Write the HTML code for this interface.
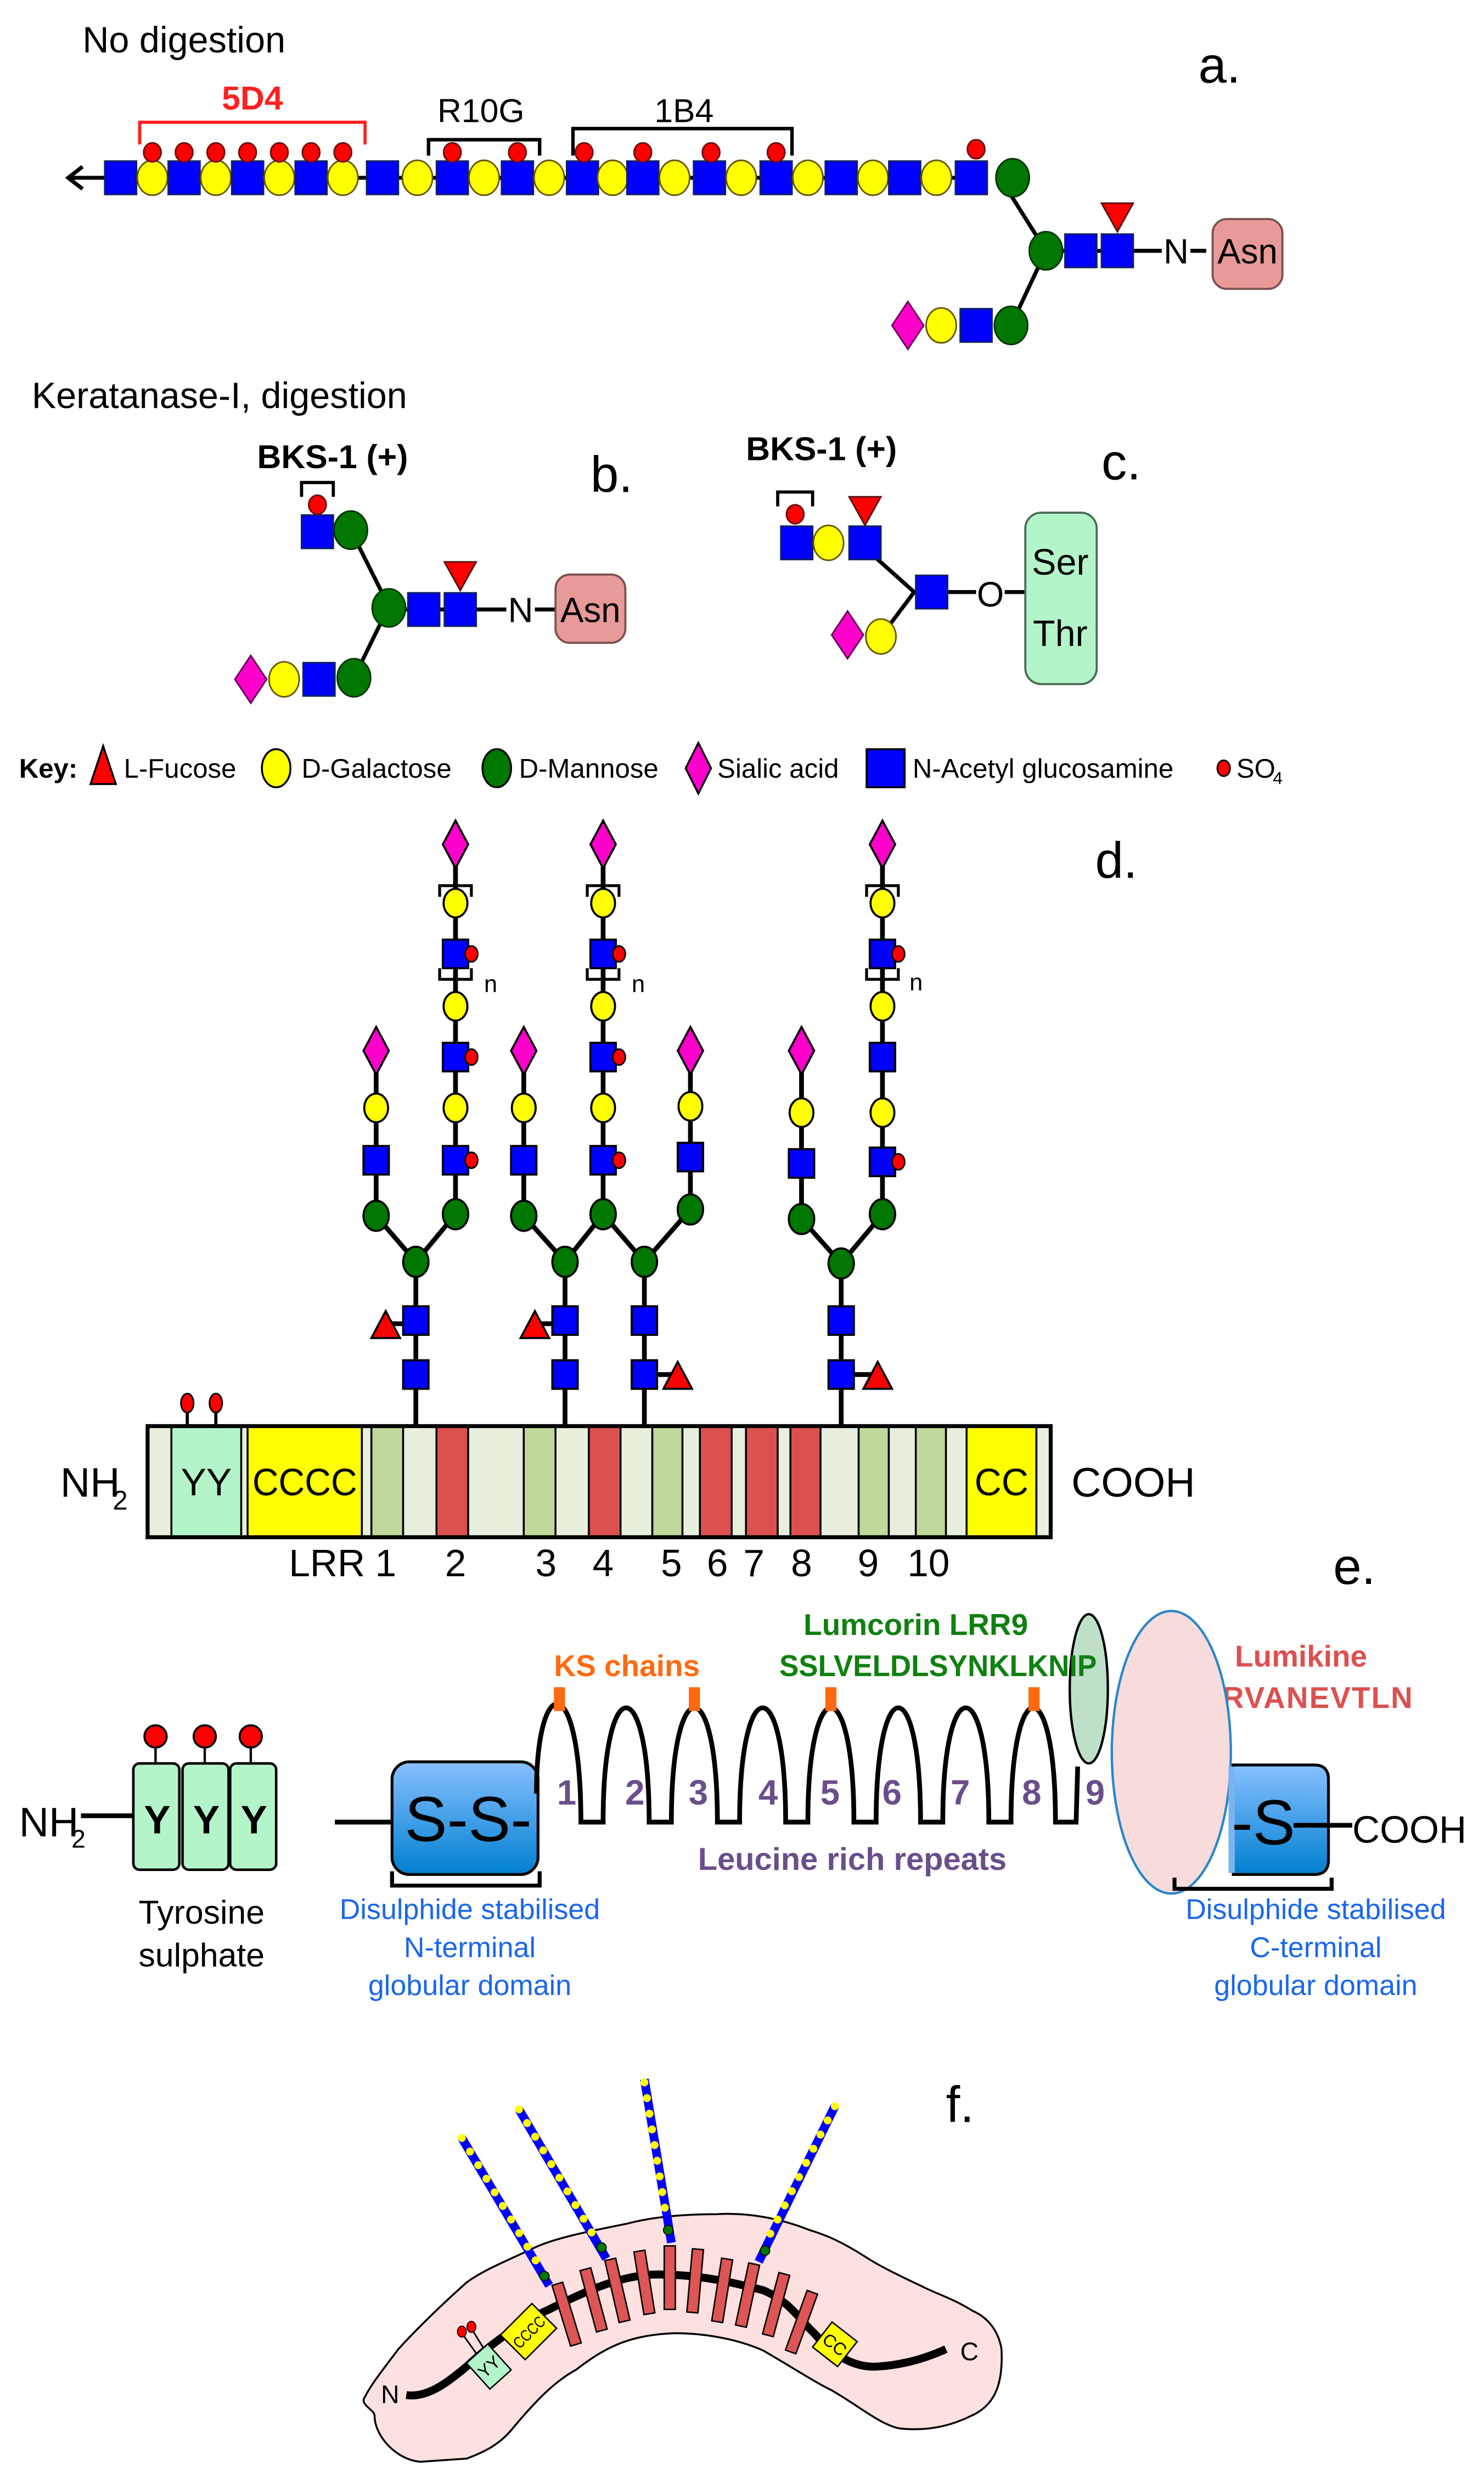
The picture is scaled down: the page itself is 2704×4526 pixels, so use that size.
<!DOCTYPE html>
<html><head><meta charset="utf-8"><style>html,body{margin:0;padding:0;background:#fff}svg{display:block}text{font-family:"Liberation Sans Narrow","Liberation Sans",sans-serif}</style></head>
<body>
<svg width="2704" height="4526" viewBox="0 0 935 1565" xmlns="http://www.w3.org/2000/svg">
<defs>
<rect id="sq" x="-10" y="-10.5" width="20" height="21" fill="#0000ff" stroke="#102060" stroke-width="1"/>
<ellipse id="gal" rx="9.5" ry="11" fill="#ffff00" stroke="#665500" stroke-width="1"/>
<ellipse id="man" rx="10.5" ry="12" fill="#007700" stroke="#003300" stroke-width="1"/>
<polygon id="sia" points="0,-15 10,0 0,15 -10,0" fill="#ff00cc" stroke="#660055" stroke-width="1"/>
<polygon id="fucd" points="-10,-9 10,-9 0,9" fill="#ff0000" stroke="#551111" stroke-width="1"/>
<ellipse id="so4" rx="5.5" ry="6" fill="#ff0000" stroke="#661111" stroke-width="1"/>
<rect id="dsq" x="-8" y="-9" width="16" height="18" fill="#0000ff" stroke="#000" stroke-width="1.3"/>
<ellipse id="dgal" rx="7.5" ry="9" fill="#ffff00" stroke="#000" stroke-width="1.3"/>
<ellipse id="dman" rx="8" ry="9.5" fill="#007700" stroke="#000" stroke-width="1.3"/>
<polygon id="dsia" points="0,-15 8,0 0,15 -8,0" fill="#ff00cc" stroke="#000" stroke-width="1.3"/>
<polygon id="dfuc" points="-9,8 9,8 0,-9" fill="#ff0000" stroke="#000" stroke-width="1.3"/>
<ellipse id="dso" rx="4" ry="5" fill="#ff0000" stroke="#000" stroke-width="1"/>
<linearGradient id="bg" x1="0" y1="0" x2="0" y2="1"><stop offset="0" stop-color="#88c0ff"/><stop offset="1" stop-color="#0080d0"/></linearGradient>
</defs>

<!-- ===== a ===== -->
<text x="52" y="33" font-size="23">No digestion</text>
<text x="755" y="52" font-size="32">a.</text>
<line x1="44" y1="112" x2="615" y2="112" stroke="#000" stroke-width="2.5"/>
<polyline points="52,105 43,112 52,119" fill="none" stroke="#000" stroke-width="2.5"/>
<path d="M630,112 L659,158 L637,205" fill="none" stroke="#000" stroke-width="2.5"/>
<g>
<use href="#sq" x="76" y="112"/><use href="#gal" x="96" y="112"/><use href="#sq" x="116" y="112"/><use href="#gal" x="136" y="112"/>
<use href="#sq" x="156" y="112"/><use href="#gal" x="176" y="112"/><use href="#sq" x="196" y="112"/><use href="#gal" x="216" y="112"/>
<use href="#sq" x="241" y="112"/><use href="#gal" x="263" y="112"/><use href="#sq" x="285" y="112"/><use href="#gal" x="305" y="112"/>
<use href="#sq" x="326" y="112"/><use href="#gal" x="346" y="112"/><use href="#sq" x="367" y="112"/><use href="#gal" x="386" y="112"/>
<use href="#sq" x="405" y="112"/><use href="#gal" x="425" y="112"/><use href="#sq" x="447" y="112"/><use href="#gal" x="467" y="112"/>
<use href="#sq" x="489" y="112"/><use href="#gal" x="509" y="112"/><use href="#sq" x="530" y="112"/><use href="#gal" x="550" y="112"/>
<use href="#sq" x="570" y="112"/><use href="#gal" x="590" y="112"/><use href="#sq" x="612" y="112"/><use href="#man" x="638" y="112"/>
<use href="#so4" x="96" y="96"/><use href="#so4" x="116" y="96"/><use href="#so4" x="136" y="96"/><use href="#so4" x="156" y="96"/>
<use href="#so4" x="176" y="96"/><use href="#so4" x="196" y="96"/><use href="#so4" x="216" y="96"/>
<use href="#so4" x="285" y="96"/><use href="#so4" x="326" y="96"/><use href="#so4" x="368" y="96"/><use href="#so4" x="405" y="96"/>
<use href="#so4" x="448" y="96"/><use href="#so4" x="489" y="96"/><use href="#so4" x="615" y="94"/>
</g>
<polyline points="88,91 88,77 230,77 230,91" fill="none" stroke="#ff2020" stroke-width="2"/>
<text x="159" y="69" font-size="21" font-weight="bold" fill="#ff2020" text-anchor="middle">5D4</text>
<polyline points="270,98 270,88 340,88 340,98" fill="none" stroke="#000" stroke-width="2.2"/>
<text x="303" y="77" font-size="21" text-anchor="middle">R10G</text>
<polyline points="361,98 361,81 499,81 499,98" fill="none" stroke="#000" stroke-width="2.2"/>
<text x="431" y="77" font-size="21" text-anchor="middle">1B4</text>
<line x1="659" y1="158" x2="760" y2="158" stroke="#000" stroke-width="2.5"/>
<use href="#sq" x="681" y="158"/><use href="#sq" x="704" y="158"/><use href="#man" x="659" y="158"/>
<use href="#fucd" x="704" y="137"/>
<rect x="732" y="146" width="18" height="24" fill="#fff"/>
<text x="741" y="166" font-size="22" text-anchor="middle">N</text>
<rect x="764" y="138" width="44" height="44" rx="9" fill="#e89a98" stroke="#7a5050" stroke-width="1.3"/>
<text x="786" y="166" font-size="22" text-anchor="middle">Asn</text>
<use href="#sia" x="572" y="205"/><use href="#gal" x="593" y="205"/><use href="#sq" x="615" y="205"/><use href="#man" x="637" y="205"/>

<!-- ===== b ===== -->
<text x="20" y="257" font-size="23">Keratanase-I,  digestion</text>
<text x="162" y="295" font-size="21" font-weight="bold">BKS-1 (+)</text>
<text x="372" y="310" font-size="32">b.</text>
<polyline points="190,313 190,304 210,304 210,313" fill="none" stroke="#000" stroke-width="2"/>
<path d="M221,334 L245,382 L223,427" fill="none" stroke="#000" stroke-width="2.5"/>
<line x1="245" y1="384" x2="352" y2="384" stroke="#000" stroke-width="2.5"/>
<use href="#sq" x="200" y="335"/><use href="#so4" x="200" y="318"/><use href="#man" x="221" y="334"/>
<use href="#sq" x="267" y="384"/><use href="#sq" x="290" y="384"/><use href="#man" x="245" y="383"/><use href="#fucd" x="290" y="363"/>
<rect x="319" y="372" width="18" height="24" fill="#fff"/>
<text x="328" y="392" font-size="22" text-anchor="middle">N</text>
<rect x="350" y="362" width="44" height="43" rx="9" fill="#e89a98" stroke="#7a5050" stroke-width="1.3"/>
<text x="372" y="392" font-size="22" text-anchor="middle">Asn</text>
<use href="#sia" x="158" y="428"/><use href="#gal" x="179" y="428"/><use href="#sq" x="201" y="428"/><use href="#man" x="223" y="427"/>

<!-- ===== c ===== -->
<text x="470" y="290" font-size="21" font-weight="bold">BKS-1 (+)</text>
<text x="694" y="302" font-size="32">c.</text>
<polyline points="490,319 490,310 512,310 512,319" fill="none" stroke="#000" stroke-width="2"/>
<path d="M548,348 L576,373 L555,401" fill="none" stroke="#000" stroke-width="2.5"/>
<line x1="587" y1="373" x2="648" y2="373" stroke="#000" stroke-width="2.5"/>
<use href="#sq" x="502" y="342"/><use href="#so4" x="501" y="324"/><use href="#gal" x="522" y="342"/><use href="#sq" x="545" y="342"/>
<use href="#fucd" x="545" y="322"/>
<use href="#sq" x="587" y="373"/>
<rect x="615" y="360" width="18" height="26" fill="#fff"/>
<text x="624" y="382" font-size="22" text-anchor="middle">O</text>
<rect x="646" y="323" width="45" height="108" rx="10" fill="#b3f5c8" stroke="#4a6a55" stroke-width="1.3"/>
<text x="668" y="362" font-size="23" text-anchor="middle">Ser</text>
<text x="668" y="407" font-size="23" text-anchor="middle">Thr</text>
<use href="#sia" x="534" y="400"/><use href="#gal" x="555" y="401"/>

<!-- ===== key ===== -->
<g font-size="17">
<text x="12" y="490" font-weight="bold">Key:</text>
<polygon points="57,494 73,494 65,470" fill="#ff0000" stroke="#000" stroke-width="1.2"/>
<text x="78" y="490">L-Fucose</text>
<ellipse cx="174" cy="484" rx="9" ry="12" fill="#ffff00" stroke="#000" stroke-width="1.2"/>
<text x="190" y="490">D-Galactose</text>
<ellipse cx="313" cy="484" rx="9" ry="12" fill="#007700" stroke="#000" stroke-width="1.2"/>
<text x="327" y="490">D-Mannose</text>
<polygon points="440,468 448,484 440,500 432,484" fill="#ff00cc" stroke="#000" stroke-width="1.2"/>
<text x="452" y="490">Sialic acid</text>
<rect x="546" y="472" width="24" height="24" fill="#0000ff" stroke="#000" stroke-width="1.2"/>
<text x="575" y="490">N-Acetyl glucosamine</text>
<ellipse cx="771" cy="484" rx="4" ry="5" fill="#ff0000" stroke="#000" stroke-width="1"/>
<text x="779" y="490">SO</text><text x="802" y="494" font-size="11">4</text>
</g>

<!-- ===== d ===== -->
<text x="690" y="553" font-size="32">d.</text>
<g stroke="#000" stroke-width="3" fill="none">
<path d="M262,898 L262,795 L237,766 L237,662 M262,795 L287,765 L287,532"/>
<path d="M356,898 L356,795 L330,766 L330,662 M356,795 L380,765 L380,532 M406,898 L406,795 L380,765 M406,795 L435,762 L435,662"/>
<path d="M530,898 L530,796 L505,768 L505,662 M530,796 L556,765 L556,532"/>
<path d="M243,834 L262,834 M337,834 L356,834 M406,866 L427,866 M530,866 L553,866"/>
</g>
<g>
<use href="#dsq" x="262" y="866"/><use href="#dsq" x="262" y="832"/><use href="#dfuc" x="243" y="835"/><use href="#dman" x="262" y="795"/>
<use href="#dman" x="237" y="766"/><use href="#dman" x="287" y="765"/>
<use href="#dsq" x="237" y="731"/><use href="#dgal" x="237" y="698"/><use href="#dsia" x="237" y="662"/>
<use href="#dsq" x="287" y="731"/><use href="#dso" x="297" y="731"/><use href="#dgal" x="287" y="698"/><use href="#dsq" x="287" y="666"/><use href="#dso" x="297" y="666"/>
<use href="#dgal" x="287" y="634"/><use href="#dsq" x="287" y="601"/><use href="#dso" x="297" y="601"/><use href="#dgal" x="287" y="569"/><use href="#dsia" x="287" y="532"/>
<use href="#dsq" x="356" y="866"/><use href="#dsq" x="356" y="832"/><use href="#dfuc" x="337" y="835"/><use href="#dman" x="356" y="795"/>
<use href="#dman" x="330" y="766"/><use href="#dman" x="380" y="765"/>
<use href="#dsq" x="330" y="731"/><use href="#dgal" x="330" y="698"/><use href="#dsia" x="330" y="662"/>
<use href="#dsq" x="380" y="731"/><use href="#dso" x="390" y="731"/><use href="#dgal" x="380" y="698"/><use href="#dsq" x="380" y="666"/><use href="#dso" x="390" y="666"/>
<use href="#dgal" x="380" y="634"/><use href="#dsq" x="380" y="601"/><use href="#dso" x="390" y="601"/><use href="#dgal" x="380" y="569"/><use href="#dsia" x="380" y="532"/>
<use href="#dsq" x="406" y="866"/><use href="#dfuc" x="427" y="867"/><use href="#dsq" x="406" y="832"/><use href="#dman" x="406" y="795"/>
<use href="#dman" x="435" y="762"/><use href="#dsq" x="435" y="729"/><use href="#dgal" x="435" y="697"/><use href="#dsia" x="435" y="662"/>
<use href="#dsq" x="530" y="866"/><use href="#dfuc" x="553" y="867"/><use href="#dsq" x="530" y="832"/><use href="#dman" x="530" y="796"/>
<use href="#dman" x="505" y="768"/><use href="#dman" x="556" y="765"/>
<use href="#dsq" x="505" y="733"/><use href="#dgal" x="505" y="701"/><use href="#dsia" x="505" y="662"/>
<use href="#dsq" x="556" y="732"/><use href="#dso" x="566" y="732"/><use href="#dgal" x="556" y="701"/><use href="#dsq" x="556" y="666"/>
<use href="#dgal" x="556" y="634"/><use href="#dsq" x="556" y="601"/><use href="#dso" x="566" y="601"/><use href="#dgal" x="556" y="569"/><use href="#dsia" x="556" y="532"/>
</g>
<g fill="none" stroke="#000" stroke-width="1.8">
<polyline points="277,565 277,558 297,558 297,565"/><polyline points="277,610 277,617 297,617 297,610"/>
<polyline points="370,565 370,558 390,558 390,565"/><polyline points="370,610 370,617 390,617 390,610"/>
<polyline points="546,565 546,558 566,558 566,565"/><polyline points="546,610 546,617 566,617 566,610"/>
</g>
<g font-size="15"><text x="305" y="625">n</text><text x="398" y="625">n</text><text x="573" y="624">n</text></g>
<g stroke="#000" stroke-width="2"><line x1="118" y1="885" x2="118" y2="899"/><line x1="136" y1="885" x2="136" y2="899"/></g>
<ellipse cx="118" cy="884" rx="4" ry="6" fill="#ff0000" stroke="#000"/><ellipse cx="136" cy="884" rx="4" ry="6" fill="#ff0000" stroke="#000"/>
<g stroke="#000" stroke-width="1.2">
<rect x="93" y="899" width="15" height="69" fill="#e8f0dd"/>
<rect x="108" y="899" width="44" height="69" fill="#b3f5c8"/>
<rect x="152" y="899" width="4" height="69" fill="#e8f0dd"/>
<rect x="156" y="899" width="72" height="69" fill="#ffff00"/>
<rect x="228" y="899" width="6" height="69" fill="#e8f0dd"/>
<rect x="234" y="899" width="20" height="69" fill="#c0d89c"/>
<rect x="254" y="899" width="21" height="69" fill="#e8f0dd"/>
<rect x="275" y="899" width="20" height="69" fill="#dd5050"/>
<rect x="295" y="899" width="35" height="69" fill="#e8f0dd"/>
<rect x="330" y="899" width="20" height="69" fill="#c0d89c"/>
<rect x="350" y="899" width="21" height="69" fill="#e8f0dd"/>
<rect x="371" y="899" width="20" height="69" fill="#dd5050"/>
<rect x="391" y="899" width="20" height="69" fill="#e8f0dd"/>
<rect x="411" y="899" width="19" height="69" fill="#c0d89c"/>
<rect x="430" y="899" width="11" height="69" fill="#e8f0dd"/>
<rect x="441" y="899" width="20" height="69" fill="#dd5050"/>
<rect x="461" y="899" width="9" height="69" fill="#e8f0dd"/>
<rect x="470" y="899" width="20" height="69" fill="#dd5050"/>
<rect x="490" y="899" width="8" height="69" fill="#e8f0dd"/>
<rect x="498" y="899" width="19" height="69" fill="#dd5050"/>
<rect x="517" y="899" width="24" height="69" fill="#e8f0dd"/>
<rect x="541" y="899" width="19" height="69" fill="#c0d89c"/>
<rect x="560" y="899" width="17" height="69" fill="#e8f0dd"/>
<rect x="577" y="899" width="19" height="69" fill="#c0d89c"/>
<rect x="596" y="899" width="13" height="69" fill="#e8f0dd"/>
<rect x="609" y="899" width="44" height="69" fill="#ffff00"/>
<rect x="653" y="899" width="9" height="69" fill="#e8f0dd"/>
</g>
<rect x="93" y="898.5" width="569" height="70" fill="none" stroke="#000" stroke-width="2.5"/>
<g font-size="26">
<text x="38" y="943">NH</text><text x="71" y="951" font-size="17">2</text>
<text x="130" y="942" text-anchor="middle" font-size="24" textLength="32" lengthAdjust="spacingAndGlyphs">YY</text>
<text x="192" y="942" text-anchor="middle" font-size="24" textLength="66" lengthAdjust="spacingAndGlyphs">CCCC</text>
<text x="631" y="942" text-anchor="middle" font-size="24" textLength="34" lengthAdjust="spacingAndGlyphs">CC</text>
<text x="675" y="943">COOH</text>
</g>
<g font-size="24" text-anchor="middle">
<text x="206" y="993">LRR</text><text x="243" y="993">1</text><text x="287" y="993">2</text><text x="344" y="993">3</text><text x="380" y="993">4</text>
<text x="423" y="993">5</text><text x="452" y="993">6</text><text x="475" y="993">7</text><text x="505" y="993">8</text><text x="547" y="993">9</text><text x="585" y="993">10</text>
</g>

<!-- ===== e ===== -->
<text x="840" y="998" font-size="32">e.</text>
<ellipse cx="686" cy="1064" rx="12" ry="47" fill="#bfe0c8" stroke="#000" stroke-width="1.5"/>
<text x="577" y="1030" font-size="19" font-weight="bold" fill="#108010" text-anchor="middle">Lumcorin LRR9</text>
<text x="591" y="1056" font-size="19" font-weight="bold" fill="#108010" text-anchor="middle" textLength="200" lengthAdjust="spacingAndGlyphs">SSLVELDLSYNKLKNIP</text>
<text x="395" y="1056" font-size="19" font-weight="bold" fill="#ff6a10" text-anchor="middle">KS chains</text>
<text x="770" y="1076" font-size="19" font-weight="bold" fill="#dd5050" textLength="120">RVANEVTLN</text>
<text x="778" y="1050" font-size="19" font-weight="bold" fill="#dd5050">Lumikine</text>
<line x1="51" y1="1144" x2="86" y2="1144" stroke="#000" stroke-width="3"/>
<g stroke="#000" stroke-width="1.5"><line x1="98" y1="1100" x2="98" y2="1111"/><line x1="129" y1="1100" x2="129" y2="1111"/><line x1="158" y1="1100" x2="158" y2="1111"/></g>
<circle cx="98" cy="1094" r="7" fill="#ff0000" stroke="#000" stroke-width="1.3"/>
<circle cx="129" cy="1094" r="7" fill="#ff0000" stroke="#000" stroke-width="1.3"/>
<circle cx="158" cy="1094" r="7" fill="#ff0000" stroke="#000" stroke-width="1.3"/>
<g fill="#b3f5c8" stroke="#000" stroke-width="1.6">
<rect x="84" y="1111" width="29" height="67" rx="4"/><rect x="115" y="1111" width="29" height="67" rx="4"/><rect x="145" y="1111" width="29" height="67" rx="4"/>
</g>
<g font-size="25" font-weight="bold" text-anchor="middle"><text x="99" y="1155">Y</text><text x="130" y="1155">Y</text><text x="160" y="1155">Y</text></g>
<text x="12" y="1157" font-size="26">NH</text><text x="45" y="1164" font-size="16">2</text>
<text x="127" y="1212" font-size="21" text-anchor="middle">Tyrosine</text>
<text x="127" y="1239" font-size="21" text-anchor="middle">sulphate</text>
<line x1="211" y1="1148" x2="250" y2="1148" stroke="#000" stroke-width="3"/>
<rect x="247" y="1110" width="92" height="71" rx="11" fill="url(#bg)" stroke="#000" stroke-width="1.8"/>
<text x="295" y="1160" font-size="40" text-anchor="middle">S-S-</text>
<polyline points="247,1179 247,1188 340,1188 340,1179" fill="none" stroke="#000" stroke-width="2.5"/>
<g font-size="18" fill="#1a66f0" text-anchor="middle">
<text x="296" y="1209">Disulphide stabilised</text><text x="296" y="1233">N-terminal</text><text x="296" y="1257">globular domain</text>
</g>
<path d="M338,1130 C338,1052 366,1052 366,1148 L380,1148 C380,1052 409,1052 409,1148 L423,1148 C423,1052 452,1052 452,1148 L466,1148 C466,1052 495,1052 495,1148 L509,1148 C509,1052 538,1052 538,1148 L552,1148 C552,1052 580,1052 580,1148 L594,1148 C594,1052 623,1052 623,1148 L637,1148 C637,1052 665,1052 665,1148 L678,1148 L679,1113" fill="none" stroke="#000" stroke-width="3"/>
<g fill="#ff6a10"><rect x="349" y="1063" width="7" height="15"/><rect x="434" y="1063" width="7" height="15"/><rect x="520" y="1063" width="7" height="15"/><rect x="648" y="1063" width="7" height="15"/></g>
<g font-size="22" font-weight="bold" fill="#6a4e8a" text-anchor="middle">
<text x="357" y="1137">1</text><text x="400" y="1137">2</text><text x="440" y="1137">3</text><text x="484" y="1137">4</text>
<text x="523" y="1137">5</text><text x="562" y="1137">6</text><text x="605" y="1137">7</text><text x="650" y="1137">8</text><text x="690" y="1137">9</text>
</g>
<text x="537" y="1178" font-size="20" font-weight="bold" fill="#6a4e8a" text-anchor="middle">Leucine rich repeats</text>
<path d="M777,1112 L828,1112 Q837,1112 837,1121 L837,1172 Q837,1181 828,1181 L777,1181 Z" fill="url(#bg)" stroke="#000" stroke-width="1.8"/>
<ellipse cx="738" cy="1104" rx="37.5" ry="89" fill="#f8dcdc" stroke="#2a86c8" stroke-width="1.5"/>
<rect x="774" y="1113" width="4" height="67" fill="#7ab4f0"/>
<line x1="815" y1="1150" x2="852" y2="1150" stroke="#000" stroke-width="3"/>
<text x="796" y="1162" font-size="40" text-anchor="middle">-S</text>
<text x="852" y="1161" font-size="24">COOH</text>
<polyline points="740,1183 740,1190 839,1190 839,1183" fill="none" stroke="#000" stroke-width="2.5"/>
<g font-size="18" fill="#1a66f0" text-anchor="middle">
<text x="829" y="1209">Disulphide stabilised</text><text x="829" y="1233">C-terminal</text><text x="829" y="1257">globular domain</text>
</g>

<!-- ===== f ===== -->
<text x="596" y="1337" font-size="32">f.</text>
<path d="M230,1510 C226,1515 236,1518 236,1522 C236,1535 250,1550 265,1551 L294,1549 C305,1545 315,1540 323,1530 C338,1512 350,1500 363,1493 C380,1480 395,1471 425,1470 C450,1470 470,1476 481,1481 C500,1492 512,1500 524,1506 C540,1515 555,1528 567,1530 C585,1532 600,1528 612,1522 C628,1515 632,1500 631,1480 C629,1468 622,1460 613,1456 C600,1448 592,1446 582,1441 C565,1433 555,1428 547,1423 C530,1412 520,1408 510,1405 C490,1397 470,1394 452,1395 C430,1395 410,1397 395,1401 C370,1406 350,1410 337,1416 C318,1425 305,1430 294,1438 C275,1455 262,1468 251,1480 C242,1492 234,1502 230,1510 Z" fill="#fde0e0" stroke="#000" stroke-width="1.2"/>
<path d="M256,1509 C270,1511 283,1500 294,1491 C310,1476 330,1462 346,1455 C370,1443 392,1433 415,1433 C440,1433 462,1438 481,1443 C498,1450 505,1463 513,1470 C525,1484 538,1492 553,1491 C570,1490 585,1485 596,1480" fill="none" stroke="#000" stroke-width="5"/>
<g>
<line x1="291" y1="1347" x2="346" y2="1440" stroke="#0000ff" stroke-width="5.5"/>
<line x1="327" y1="1329" x2="382" y2="1423" stroke="#0000ff" stroke-width="5.5"/>
<line x1="406" y1="1310" x2="423" y2="1413" stroke="#0000ff" stroke-width="5.5"/>
<line x1="526" y1="1327" x2="478" y2="1425" stroke="#0000ff" stroke-width="5.5"/>
<g stroke="#ffff00" stroke-width="5" stroke-linecap="round" stroke-dasharray="0 10">
<line x1="291" y1="1347" x2="341" y2="1430"/>
<line x1="327" y1="1329" x2="376" y2="1412"/>
<line x1="406" y1="1312" x2="420" y2="1398"/>
<line x1="526" y1="1327" x2="484" y2="1410"/>
</g>
</g>
<g fill="#007700" stroke="#000" stroke-width="0.6">
<circle cx="343" cy="1434" r="3"/><circle cx="379" cy="1416" r="3"/><circle cx="421" cy="1405" r="3"/><circle cx="482" cy="1418" r="3"/>
</g>
<g fill="#dd5555" stroke="#000" stroke-width="0.9">
<rect x="-3.5" y="-20" width="7" height="40" transform="translate(357,1458) rotate(-17)"/>
<rect x="-3.5" y="-20" width="7" height="40" transform="translate(374,1449) rotate(-15)"/>
<rect x="-3.5" y="-20" width="7" height="40" transform="translate(389,1443) rotate(-13)"/>
<rect x="-3.5" y="-20" width="7" height="40" transform="translate(406,1438) rotate(-9)"/>
<rect x="-3.5" y="-20" width="7" height="40" transform="translate(422,1435) rotate(0)"/>
<rect x="-3.5" y="-20" width="7" height="40" transform="translate(438,1437) rotate(5)"/>
<rect x="-3.5" y="-20" width="7" height="40" transform="translate(455,1443) rotate(9)"/>
<rect x="-3.5" y="-20" width="7" height="40" transform="translate(471,1446) rotate(12)"/>
<rect x="-3.5" y="-20" width="7" height="40" transform="translate(489,1452) rotate(15)"/>
<rect x="-3.5" y="-20" width="7" height="40" transform="translate(505,1463) rotate(20)"/>
</g>
<g stroke="#000" stroke-width="1">
<line x1="291" y1="1470" x2="301" y2="1484"/><line x1="297" y1="1467" x2="305" y2="1480"/>
</g>
<ellipse cx="291" cy="1469" rx="2.8" ry="3.5" fill="#ff0000" stroke="#000" stroke-width="0.6"/>
<ellipse cx="297" cy="1466" rx="2.8" ry="3.5" fill="#ff0000" stroke="#000" stroke-width="0.6"/>
<g transform="translate(308,1491) rotate(-42)"><rect x="-9" y="-11" width="18" height="22" fill="#b3f5c8" stroke="#000" stroke-width="0.9"/><text x="0" y="4" font-size="11" text-anchor="middle">YY</text></g>
<g transform="translate(333,1469) rotate(-45)"><rect x="-14" y="-11" width="28" height="22" fill="#ffff00" stroke="#000" stroke-width="0.9"/><text x="0" y="4" font-size="10" text-anchor="middle" textLength="24" lengthAdjust="spacingAndGlyphs">CCCC</text></g>
<g transform="translate(526,1477) rotate(38)"><rect x="-10" y="-10" width="20" height="20" fill="#ffff00" stroke="#000" stroke-width="0.9"/><text x="0" y="4" font-size="11" text-anchor="middle">CC</text></g>
<text x="240" y="1514" font-size="16">N</text>
<text x="605" y="1487" font-size="16">C</text>
</svg>
</body></html>
